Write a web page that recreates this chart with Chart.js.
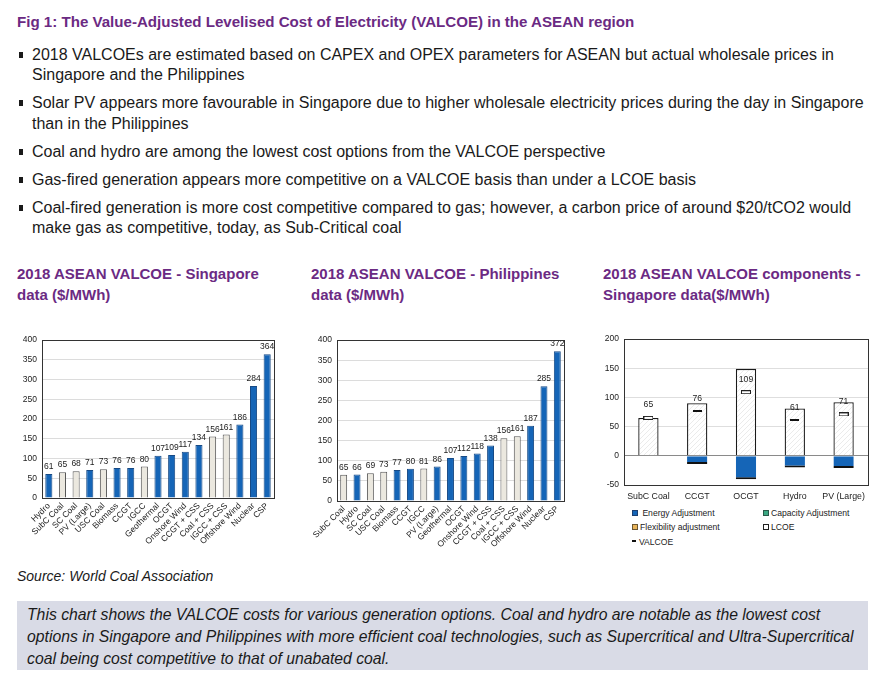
<!DOCTYPE html>
<html>
<head>
<meta charset="utf-8">
<script src="https://cdn.jsdelivr.net/npm/chart.js@4/dist/chart.umd.min.js"></script>
<style>
body { margin:0; width:887px; height:692px; background:#fff; position:relative; overflow:hidden;
       font-family:"Liberation Sans", Arial, sans-serif; color:#1a1a1a; }
.purple { color:#6b2a83; font-weight:bold; }
#title { position:absolute; left:17px; top:13px; font-size:15.1px; line-height:18px; white-space:nowrap; }
#bullets { position:absolute; left:32px; top:44.75px; font-size:16px; line-height:20.5px; white-space:nowrap; }
#bullets div { position:relative; margin-bottom:7.5px; }
#bullets div:before { content:""; position:absolute; left:-13px; top:7px; width:4px; height:6px; background:#1a1a1a; }
.ctitle { position:absolute; top:262.5px; font-size:15px; line-height:21px; white-space:nowrap; }
.cw { position:absolute; }
.lg { position:absolute; font-size:8.6px; line-height:12px; color:#222; white-space:nowrap; }
.sw { display:inline-block; width:4px; height:4px; border:1px solid #333; margin-right:2px; vertical-align:0px; }
#source { position:absolute; left:17px; top:568px; font-size:14px; line-height:16px; font-style:italic; }
#box { position:absolute; left:17px; top:601px; width:851px; height:69px; background:#d9dbe6; }
#box p { margin:0; padding:3px 0 0 10px; font-size:15.75px; line-height:22px; font-style:italic; white-space:nowrap; }
</style>
</head>
<body>
<div id="title" class="purple">Fig 1: The Value-Adjusted Levelised Cost of Electricity (VALCOE) in the ASEAN region</div>
<div id="bullets">
  <div>2018 VALCOEs are estimated based on CAPEX and OPEX parameters for ASEAN but actual wholesale prices in<br>Singapore and the Philippines</div>
  <div>Solar PV appears more favourable in Singapore due to higher wholesale electricity prices during the day in Singapore<br>than in the Philippines</div>
  <div>Coal and hydro are among the lowest cost options from the VALCOE perspective</div>
  <div>Gas-fired generation appears more competitive on a VALCOE basis than under a LCOE basis</div>
  <div>Coal-fired generation is more cost competitive compared to gas; however, a carbon price of around $20/tCO2 would<br>make gas as competitive, today, as Sub-Critical coal</div>
</div>

<div class="ctitle purple" style="left:17px">2018 ASEAN VALCOE - Singapore<br>data ($/MWh)</div>
<div class="ctitle purple" style="left:311px">2018 ASEAN VALCOE - Philippines<br>data ($/MWh)</div>
<div class="ctitle purple" style="left:603px">2018 ASEAN VALCOE components -<br>Singapore data($/MWh)</div>

<div class="cw" style="left:15px;top:330px;width:265px;height:237px"><canvas id="sg"></canvas></div>
<div class="cw" style="left:305px;top:330px;width:270px;height:237px"><canvas id="ph"></canvas></div>
<div class="cw" style="left:595px;top:329px;width:280px;height:175px"><canvas id="comp"></canvas></div>

<div class="lg" style="left:632px;top:507px"><span class="sw" style="background:#1565b7;border-color:#1d3f70"></span> Energy Adjustment</div>
<div class="lg" style="left:763px;top:507px"><span class="sw" style="background:#3aa882;border-color:#2a5a4a"></span>Capacity Adjustment</div>
<div class="lg" style="left:632px;top:521px"><span class="sw" style="background:#e8b45a;border-color:#6a5530"></span>Flexibility adjustment</div>
<div class="lg" style="left:763px;top:521px"><span class="sw" style="background:#fff;border-color:#222"></span>LCOE</div>
<div class="lg" style="left:632px;top:536px"><span style="display:inline-block;width:4px;height:2px;background:#111;margin-right:3px;vertical-align:3px"></span>VALCOE</div>

<div id="source">Source: World Coal Association</div>
<div id="box"><p>This chart shows the VALCOE costs for various generation options. Coal and hydro are notable as the lowest cost<br>options in Singapore and Philippines with more efficient coal technologies, such as Supercritical and Ultra-Supercritical<br>coal being cost competitive to that of unabated coal.</p></div>

<script>
// Singapore
const sgLabels = ["Hydro", "SubC Coal", "SC Coal", "PV (Large)", "USC Coal", "Biomass", "CCGT", "IGCC",
    "Geothermal", "OCGT", "Onshore Wind", "CCGT + CSS", "Coal + CSS", "IGCC + CSS", "Offshore Wind", "Nuclear", "CSP"];
const sgValues = [61, 65, 68, 71, 73, 76, 76, 80, 107, 109, 117, 134, 156, 161, 186, 284, 364];

// Philippines
const phLabels = ["SubC Coal", "Hydro", "SC Coal", "USC Coal", "Biomass", "CCGT", "IGCC", "PV (Large)",
    "Geothermal", "OCGT", "Onshore Wind", "CCGT + CSS", "Coal + CSS", "IGCC + CSS", "Offshore Wind", "Nuclear", "CSP"];
const phValues = [65, 66, 69, 73, 77, 80, 81, 86, 107, 112, 118, 138, 156, 161, 187, 285, 372];

// technologies drawn in the light (coal) colour
const coalTechs = ["SubC Coal", "SC Coal", "USC Coal", "IGCC", "Coal + CSS", "IGCC + CSS"];

// components chart
const compLabels = ["SubC Coal", "CCGT", "OCGT", "Hydro", "PV (Large)"];
const compEnergy = [0, -14, -40, -20, -21];
const compCapacity = [0, 0, 0, 0, 0];
const compFlex = [0, 0, 0, 0, 0];
const compLcoe = [65, 90, 149, 81, 92];
const compValcoe = [65, 76, 109, 61, 71];

Chart.defaults.font.family = '"Liberation Sans", Arial, sans-serif';
Chart.defaults.font.size = 8.5;
Chart.defaults.color = "#222";

const BLUE = "#1565b7";

// box round the plot area
const frame = {
    id: "frame",
    afterDraw(chart) {
        const a = chart.chartArea, c = chart.ctx;
        c.save();
        c.strokeStyle = "#333";
        c.lineWidth = 1;
        c.strokeRect(Math.round(a.left) + 0.5, Math.round(a.top) + 0.5, Math.round(a.right - a.left), Math.round(a.bottom - a.top));
        c.restore();
    }
};

// numbers above the bars
const barValues = {
    id: "barValues",
    afterDatasetsDraw(chart) {
        const c = chart.ctx;
        const ds = chart.data.datasets[0];
        c.save();
        c.font = '8.5px "Liberation Sans", Arial';
        c.fillStyle = "#222";
        c.textAlign = "center";
        c.textBaseline = "bottom";
        chart.getDatasetMeta(0).data.forEach((b, i) => c.fillText(ds.data[i], b.x, b.y - 3));
        c.restore();
    }
};

function valcoeBar(id, labels, values, axisW, axisH, padRight) {
    new Chart(document.getElementById(id), {
        type: "bar",
        data: {
            labels: labels,
            datasets: [{
                data: values,
                backgroundColor: labels.map(l => coalTechs.includes(l) ? "#ebe8df" : BLUE),
                borderColor: labels.map(l => coalTechs.includes(l) ? "#555" : "#174a85"),
                borderWidth: 1,
                barPercentage: 0.52,
                categoryPercentage: 1
            }]
        },
        options: {
            responsive: true,
            maintainAspectRatio: false,
            animation: false,
            layout: { padding: { top: 10, right: padRight, left: 0, bottom: 0 } },
            plugins: { legend: { display: false }, tooltip: { enabled: false } },
            scales: {
                x: {
                    grid: { display: false, drawTicks: false },
                    border: { color: "#333" },
                    ticks: { autoSkip: false, minRotation: 45, maxRotation: 45, padding: 3 },
                    afterFit: s => { s.height = axisH; }
                },
                y: {
                    min: 0, max: 400,
                    ticks: { stepSize: 50, padding: 5 },
                    grid: { color: "#dcdcdc", drawTicks: false },
                    border: { color: "#333" },
                    afterFit: s => { s.width = axisW; }
                }
            }
        },
        plugins: [frame, barValues]
    });
}

valcoeBar("sg", sgLabels, sgValues, 27, 69, 6);
valcoeBar("ph", phLabels, phValues, 32, 66, 11);

// faint hatch for the LCOE bars
const hatchTile = document.createElement("canvas");
hatchTile.width = 5; hatchTile.height = 5;
(function () {
    const g = hatchTile.getContext("2d");
    g.fillStyle = "#fff";
    g.fillRect(0, 0, 5, 5);
    g.strokeStyle = "#e6e6e6";
    g.lineWidth = 0.8;
    g.beginPath();
    g.moveTo(0, 5); g.lineTo(5, 0);
    g.moveTo(-1, 1); g.lineTo(1, -1);
    g.moveTo(4, 6); g.lineTo(6, 4);
    g.stroke();
})();

function dash(w, h, hollow) {
    const m = document.createElement("canvas");
    m.width = w; m.height = h;
    const g = m.getContext("2d");
    if (hollow) {
        g.fillStyle = "#fff"; g.fillRect(0, 0, w, h);
        g.strokeStyle = "#222"; g.lineWidth = 1; g.strokeRect(0.5, 0.5, w - 1, h - 1);
    } else {
        g.fillStyle = "#111"; g.fillRect(0, 0, w, h);
    }
    return m;
}
const openDash = dash(10, 4, true);
const solidDash = dash(9, 2, false);

// VALCOE numbers above the markers
const valcoeLabels = {
    id: "valcoeLabels",
    afterDatasetsDraw(chart) {
        const c = chart.ctx;
        const idx = chart.data.datasets.findIndex(d => d.label === "VALCOE");
        const ds = chart.data.datasets[idx];
        c.save();
        c.font = '8.6px "Liberation Sans", Arial';
        c.fillStyle = "#222";
        c.textAlign = "center";
        c.textBaseline = "middle";
        chart.getDatasetMeta(idx).data.forEach((p, i) => c.fillText(ds.data[i], p.x, p.y - 13));
        c.restore();
    }
};

new Chart(document.getElementById("comp"), {
    type: "bar",
    data: {
        labels: compLabels,
        datasets: [
            {
                type: "line", label: "VALCOE", data: compValcoe, stack: "v", order: 0,
                showLine: false,
                pointStyle: [openDash, solidDash, openDash, solidDash, openDash],
                pointRadius: 5
            },
            {
                label: "Energy Adjustment", data: compEnergy, stack: "a", order: 1,
                backgroundColor: BLUE, borderColor: "#111",
                borderWidth: { top: 0, right: 0, bottom: 2, left: 0 }, borderSkipped: false
            },
            { label: "Capacity Adjustment", data: compCapacity, stack: "a", order: 1, backgroundColor: "#3aa882", borderWidth: 0 },
            { label: "Flexibility adjustment", data: compFlex, stack: "a", order: 1, backgroundColor: "#e8b45a", borderWidth: 0 },
            {
                label: "LCOE", data: compLcoe, stack: "a", order: 1,
                backgroundColor: ctx => ctx.chart.ctx.createPattern(hatchTile, "repeat"),
                borderColor: "#1a1a1a", borderWidth: 1.3
            }
        ]
    },
    options: {
        responsive: true,
        maintainAspectRatio: false,
        animation: false,
        datasets: { bar: { barPercentage: 0.8, categoryPercentage: 0.52 } },
        layout: { padding: { top: 10, right: 7, left: 0, bottom: 0 } },
        plugins: { legend: { display: false }, tooltip: { enabled: false } },
        scales: {
            x: {
                stacked: true,
                grid: { display: false, drawTicks: false },
                border: { display: false },
                ticks: { padding: 6, font: { size: 8.8 } },
                afterFit: s => { s.height = 19; }
            },
            y: {
                stacked: true,
                min: -50, max: 200,
                ticks: { stepSize: 50, padding: 5 },
                grid: { color: c => c.tick.value === 0 ? "#8a8a8a" : "#dedede", drawTicks: false },
                border: { color: "#333" },
                afterFit: s => { s.width = 29; }
            }
        }
    },
    plugins: [frame, valcoeLabels]
});
</script>
</body>
</html>
